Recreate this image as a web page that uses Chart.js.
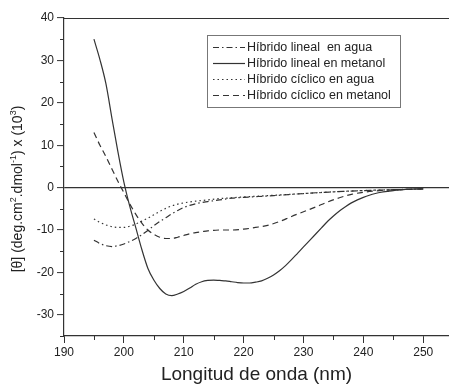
<!DOCTYPE html>
<html><head><meta charset="utf-8">
<script src="https://cdn.jsdelivr.net/npm/chart.js@4"></script>
<style>html,body{margin:0;padding:0;background:#fff;}canvas{display:block;}</style>
</head><body>
<canvas id="c" width="449" height="386"></canvas>
<script>
const labels = ["Híbrido lineal  en agua","Híbrido lineal en metanol","Híbrido cíclico en agua","Híbrido cíclico en metanol"];
const linealAgua = [[195,-12.4],[196,-13.2],[197,-13.7],[198,-13.9],[199,-13.7],[200,-13.3],[201,-12.7],[202,-12],[203,-11.1],[204,-10.1],[205,-9],[206,-8],[207,-7.1],[208,-6.2],[209,-5.4],[210,-4.7],[211,-4.2],[212,-3.8],[214,-3.3],[216,-2.9],[218,-2.5],[220,-2.3],[225,-1.9],[230,-1.4],[235,-1.0],[240,-0.7],[245,-0.5],[250,-0.3]];
const linealMetanol = [[195,35],[196,30.2],[197,24.5],[198,16.4],[199,8.5],[200,1.3],[201,-4.5],[202,-9.5],[203,-14.6],[204,-19],[205,-21.8],[206,-23.8],[207,-25.1],[208,-25.5],[209,-25.1],[210,-24.5],[211,-23.7],[212,-22.8],[213,-22.2],[214,-21.9],[215,-21.8],[216,-21.9],[217,-22],[218,-22.2],[219,-22.4],[220,-22.5],[221,-22.5],[222,-22.3],[223,-22],[224,-21.4],[225,-20.6],[226,-19.6],[227,-18.4],[228,-17],[229,-15.5],[230,-14],[231,-12.5],[232,-11],[233,-9.5],[234,-8],[235,-6.7],[236,-5.5],[237,-4.5],[238,-3.6],[239,-2.9],[240,-2.3],[241,-1.8],[242,-1.4],[243,-1.1],[244,-0.9],[245,-0.7],[246,-0.55],[247,-0.45],[248,-0.35],[249,-0.3],[250,-0.3]];
const ciclicoAgua = [[195,-7.4],[196,-8.2],[197,-8.8],[198,-9.2],[199,-9.4],[200,-9.4],[201,-9.1],[202,-8.6],[203,-7.9],[204,-7.2],[205,-6.4],[206,-5.6],[207,-4.9],[208,-4.3],[209,-3.9],[210,-3.6],[212,-3.2],[214,-2.9],[216,-2.6],[218,-2.4],[220,-2.2],[225,-1.8],[230,-1.4],[235,-1.0],[240,-0.7],[245,-0.5],[250,-0.3]];
const ciclicoMetanol = [[195,13],[196,10],[197,7.3],[198,4.4],[199,1.5],[200,-1.2],[201,-3.9],[202,-6.3],[203,-8.4],[204,-10],[205,-11],[206,-11.7],[207,-12],[208,-12],[209,-11.7],[210,-11.3],[211,-10.9],[212,-10.6],[213,-10.4],[214,-10.2],[215,-10.1],[216,-10],[218,-10],[220,-9.8],[222,-9.4],[224,-8.9],[226,-8],[228,-6.8],[230,-5.7],[232,-4.6],[234,-3.4],[236,-2.4],[238,-1.6],[240,-1.1],[242,-0.8],[244,-0.6],[246,-0.5],[248,-0.4],[250,-0.3]];
const xTicks = [190,200,210,220,230,240,250];
const yTicks = [-30,-20,-10,0,10,20,30,40];
const xTitle = 'Longitud de onda (nm)';
// y title pieces: [text, isSuperscript]
const yTitle = [['[θ] (deg.cm',0],['2',1],['.dmol',0],['-1',1],[') x (10',0],['3',1],[')',0]];

const FONT = "'Liberation Sans', Arial, sans-serif";
const INK = '#333';
const toPts = a => a.map(p => ({x:p[0], y:p[1]}));
const dashes = [[6,3,1.5,3],[],[1.5,3],[6,4]];
const series = [linealAgua, linealMetanol, ciclicoAgua, ciclicoMetanol];

const extras = {
  id:'extras',
  afterDraw(chart){
    const ctx = chart.ctx, a = chart.chartArea;
    const xs = chart.scales.x, ys = chart.scales.y;
    ctx.save();
    ctx.strokeStyle = INK; ctx.lineWidth = 1.2;
    // top frame
    ctx.beginPath(); ctx.moveTo(a.left, a.top+0.5); ctx.lineTo(a.right, a.top+0.5); ctx.stroke();
    // minor ticks
    ctx.lineWidth = 1;
    for (let v = 195; v < 255; v += 10) {
      const px = Math.round(xs.getPixelForValue(v))+0.5;
      ctx.beginPath(); ctx.moveTo(px, a.bottom); ctx.lineTo(px, a.bottom+4); ctx.stroke();
    }
    for (let v = -35; v <= 40; v += 10) {
      const py = Math.round(ys.getPixelForValue(v))+0.5;
      ctx.beginPath(); ctx.moveTo(a.left, py); ctx.lineTo(a.left-4, py); ctx.stroke();
    }
    // y title with superscripts
    const fMain = '14px ' + FONT, fSup = '9px ' + FONT;
    let total = 0;
    yTitle.forEach(([t,s]) => { ctx.font = s ? fSup : fMain; total += ctx.measureText(t).width; });
    ctx.save();
    ctx.translate(22, 189);
    ctx.rotate(-Math.PI/2);
    ctx.fillStyle = '#222'; ctx.textBaseline = 'alphabetic';
    let cx = -total/2;
    yTitle.forEach(([t,s]) => {
      ctx.font = s ? fSup : fMain;
      ctx.fillText(t, cx, s ? -6 : 0);
      cx += ctx.measureText(t).width;
    });
    ctx.restore();
    // legend
    const bx = 207, by = 35, bw = 193, bh = 72;
    ctx.strokeStyle = '#777'; ctx.lineWidth = 1;
    ctx.strokeRect(bx+0.5, by+0.5, bw, bh);
    ctx.font = '12.5px ' + FONT; ctx.fillStyle = '#222'; ctx.textBaseline = 'middle';
    chart.data.datasets.forEach((ds, i) => {
      const y = by + 12.5 + i*16;
      ctx.strokeStyle = INK; ctx.lineWidth = 1.2; ctx.setLineDash(ds.borderDash || []);
      ctx.beginPath(); ctx.moveTo(bx+6, y); ctx.lineTo(bx+38, y); ctx.stroke();
      ctx.setLineDash([]);
      ctx.fillText(ds.label, bx+40, y);
    });
    ctx.restore();
  }
};

new Chart(document.getElementById('c'), {
  type:'line',
  data:{ datasets: series.map((s,i) => ({
    label: labels[i], data: toPts(s), borderColor: INK, borderWidth: 1.2,
    borderDash: dashes[i], pointRadius: 0, tension: 0.4, cubicInterpolationMode:'monotone', fill:false
  }))},
  options:{
    responsive:false, animation:false, devicePixelRatio:1,
    layout:{ padding:{ left:4, top:18, right:0, bottom:0 } },
    plugins:{ legend:{display:false}, tooltip:{enabled:false} },
    scales:{
      x:{ type:'linear', min:190, max:254.3,
        afterBuildTicks: s => { s.ticks = xTicks.map(v => ({value:v})); },
        afterFit: s => { s.height = 50; },
        grid:{ drawOnChartArea:false, drawTicks:true, tickLength:7, tickColor:INK, tickWidth:1 },
        border:{ display:true, color:INK, width:1.2 },
        ticks:{ color:'#222', font:{family:FONT, size:12}, padding:2, maxRotation:0 },
        title:{ display:true, text:xTitle, color:'#222', font:{family:FONT, size:19}, padding:{top:1,bottom:0} }
      },
      y:{ type:'linear', min:-35, max:40,
        afterBuildTicks: s => { s.ticks = yTicks.map(v => ({value:v})); },
        afterFit: s => { s.width = 60; },
        grid:{ drawOnChartArea:true, drawTicks:true, tickLength:7, tickColor:INK, tickWidth:1,
          color: c => (c.tick && c.tick.value === 0) ? INK : 'rgba(0,0,0,0)', lineWidth: 1.2 },
        border:{ display:true, color:INK, width:1.2 },
        ticks:{ color:'#222', font:{family:FONT, size:12}, padding:3 },
        title:{ display:false }
      }
    }
  },
  plugins:[extras]
});
</script>
</body></html>
